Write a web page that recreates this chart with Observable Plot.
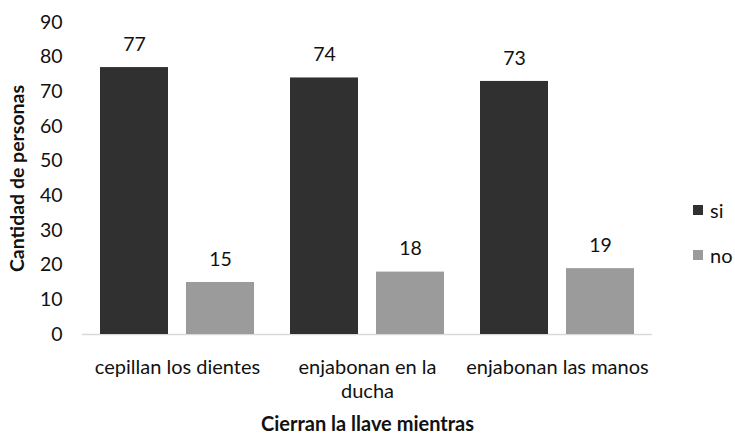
<!DOCTYPE html>
<html><head><meta charset="utf-8">
<script src="https://cdn.jsdelivr.net/npm/d3@7"></script>
<script src="https://cdn.jsdelivr.net/npm/@observablehq/plot@0.6"></script>
<style>
body{margin:0;background:#fff;font-family:Lato,sans-serif}
#wrap{position:relative;width:735px;height:433px}
.leg{position:absolute;left:693px;font-size:20px;color:#111;display:flex;align-items:center;line-height:1}
.sw{width:10px;height:10px;margin-right:7px}
</style></head><body>
<div id="wrap"></div>
<script>
const categories = ["cepillan los dientes", "enjabonan en la ducha", "enjabonan las manos"];
const tickLabels = ["cepillan los dientes", "enjabonan en la\nducha", "enjabonan las manos"];
const series = ["si", "no"];
const siValues = [77, 74, 73];
const noValues = [15, 18, 19];
const yTicks = [0, 10, 20, 30, 40, 50, 60, 70, 80, 90];
const colors = ["#303030", "#9b9b9b"];
const yTitle = "Cantidad de personas";
const xTitle = "Cierran la llave mientras";

const data = categories.flatMap((c, i) => [
  {cat: c, s: series[0], v: siValues[i]},
  {cat: c, s: series[1], v: noValues[i]}
]);

const chart = Plot.plot({
  width: 735, height: 433,
  marginLeft: 82, marginRight: 83, marginTop: 22, marginBottom: 99,
  style: {fontFamily: "Lato, sans-serif", fontSize: "19px", color: "#111", background: "#fff"},
  fx: {domain: categories, padding: 0},
  x: {domain: series, axis: null, paddingInner: 0.208, paddingOuter: 0.202},
  y: {domain: [0, 90]},
  color: {domain: series, range: colors},
  marks: [
    Plot.axisY({ticks: yTicks, tickSize: 0, tickPadding: 20, fontSize: 19.5,
      label: yTitle, labelAnchor: "center", labelOffset: 72, labelArrow: "none"}),
    Plot.axisFx({anchor: "bottom", tickFormat: d => tickLabels[categories.indexOf(d)], tickSize: 0, tickPadding: 22,
      lineHeight: 1.2, fontSize: 20, label: xTitle, labelAnchor: "center", labelOffset: 96, labelArrow: "none"}),
    Plot.ruleY([0], {stroke: "#d9d9d9", strokeWidth: 1.5}),
    Plot.barY(data, {fx: "cat", x: "s", y: "v", fill: "s"}),
    Plot.text(data, {fx: "cat", x: "s", y: "v", text: d => String(d.v), dy: -23, fontSize: 19.5, fill: "#111"})
  ]
});
d3.select(chart).selectAll('[aria-label="y-axis label"] text').text(yTitle);
d3.select(chart).selectAll('[aria-label="fx-axis label"] text').text(xTitle);
d3.select(chart).selectAll('[aria-label$="axis label"]').attr("font-weight", "bold");
const wrap = document.getElementById("wrap");
wrap.appendChild(chart);
series.forEach((s, i) => {
  const d = document.createElement("div");
  d.className = "leg";
  d.style.top = (i === 0 ? 200 : 245) + "px";
  d.innerHTML = `<span class="sw" style="background:${colors[i]}"></span><span>${s}</span>`;
  wrap.appendChild(d);
});
</script>
</body></html>
